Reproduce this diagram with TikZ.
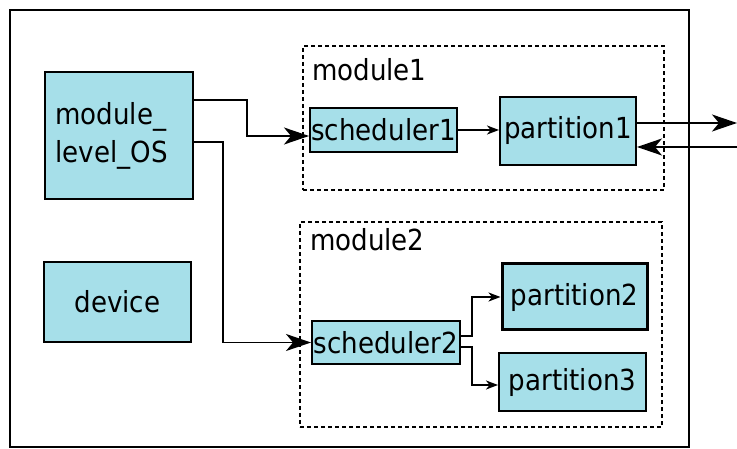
\documentclass[tikz,border=0pt]{standalone}
\usepackage{fontspec}
\setmainfont{DejaVu Sans Condensed}
\usepackage{xcolor}
\definecolor{boxcyan}{HTML}{A6DFE9}
\usetikzlibrary{arrows.meta,positioning,calc}

\begin{document}
\begin{tikzpicture}[x=1pt,y=-1pt,
      blk/.style={draw, line width=2pt, fill=boxcyan, inner sep=0pt, font=\fontsize{29}{38}\selectfont},
      grp/.style={draw, line width=2pt, dash pattern=on 4pt off 3pt, inner sep=0pt},
      lbl/.style={anchor=base west, inner sep=0pt, font=\fontsize{29}{34}\selectfont},
      bigarrow/.style={line width=1.8pt, -{Stealth[length=25pt,width=17pt,inset=7pt]}},
      smallarrow/.style={line width=1.8pt, -{Stealth[length=12pt,width=9pt,inset=3.5pt]}}
    ]
    \useasboundingbox (0,0) rectangle (737,449);
    \node[draw, line width=1.6pt, minimum width=679pt, minimum height=437pt] (frame) at (349.5,228.5) {};
    % modules
    \node[grp, minimum width=361pt, minimum height=144pt] (mod1) at (483.5,118) {};
    \node[grp, minimum width=362pt, minimum height=205pt] (mod2) at (481,324.5) {};
    \node[lbl] (mod1lbl) at (312,81) {module1};
    \node[lbl] (mod2lbl) at (310,251) {module2};
    % blocks
    \node[blk, minimum width=148pt, minimum height=127pt, align=left, text width=127pt] (os) at (119,136) {module\_\\level\_OS};
    \node[blk, minimum width=147pt, minimum height=80pt] (dev) at (117.5,302) {device};
    \node[blk, minimum width=147pt, minimum height=44pt] (sched1) at (383.5,130) {scheduler1};
    \node[blk, minimum width=136pt, minimum height=68pt] (part1) at (568,131) {partition1};
    \node[blk, minimum width=148pt, minimum height=43pt] (sched2) at (386,342.5) {scheduler2};
    \node[blk, line width=3pt, minimum width=145pt, minimum height=66pt] (part2) at (574.5,297) {partition2};
    \node[blk, minimum width=147pt, minimum height=58pt] (part3) at (572.5,382) {partition3};
    \coordinate (outR) at (737,123);
    \coordinate (inR) at (737,147);
    % connectors
    \draw[bigarrow] ([yshift=36pt]os.east) -- ++(53,0) |- ([yshift=-6pt]sched1.west);
    \draw[bigarrow] ([yshift=-6pt]os.east) -- ++(29,0) |- (sched2.west);
    \draw[smallarrow] (sched1.east) -- (part1.west |- sched1.east);
    \draw[bigarrow] ([yshift=8pt]part1.east) -- (outR);
    \draw[bigarrow] (inR) -- ([yshift=-16pt]part1.east);
    \draw[smallarrow] ([yshift=6.5pt]sched2.east) -- ++(11,0) |- (part2.west);
    \draw[smallarrow] ([yshift=-4.5pt]sched2.east) -- ++(11,0) |- ([yshift=-3pt]part3.west);
\end{tikzpicture}
\end{document}
